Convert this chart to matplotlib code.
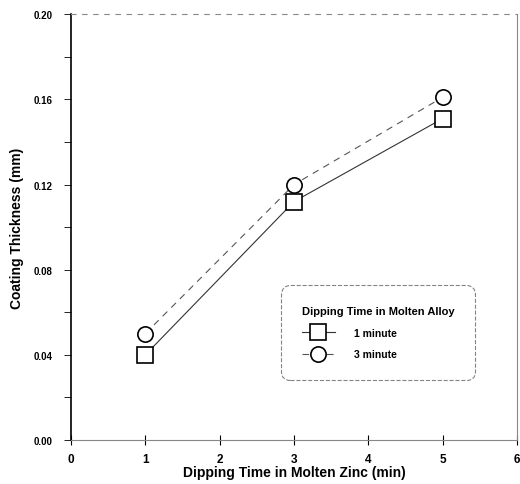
import numpy as np
import matplotlib
matplotlib.use('Agg')
from matplotlib import pyplot as plt
from matplotlib.ticker import MultipleLocator

plt.rcParams['font.family'] = ['Liberation Sans', 'DejaVu Sans']

# data
times = [1, 3, 5]
one_min = [0.040, 0.112, 0.151]
three_min = [0.050, 0.120, 0.161]

fig = plt.figure(figsize=(5.2, 4.85), dpi=100)
ax = fig.add_axes([0.1365, 0.0907, 0.858, 0.878])

ax.plot(times, one_min, '-', color='#333333', lw=0.8, marker='s', ms=11,
        mfc='white', mec='black', mew=1.2, label='1 minute')
ax.plot(times, three_min, '--', color='#555555', lw=0.8, dashes=(6, 5), marker='o', ms=11,
        mfc='white', mec='black', mew=1.2, label='3 minute')

ax.set_xlim(0, 6)
ax.set_ylim(0, 0.2)
ax.xaxis.set_major_locator(MultipleLocator(1))
ax.yaxis.set_major_locator(MultipleLocator(0.04))
ax.yaxis.set_minor_locator(MultipleLocator(0.02))
ax.yaxis.set_major_formatter(plt.FormatStrFormatter('%.2f'))

ax.tick_params(axis='x', direction='inout', length=7, width=0.8, labelsize=8.5, pad=6)
ax.tick_params(axis='y', which='both', direction='out', length=5, width=0.6, labelsize=7, pad=8)
for lab in ax.get_xticklabels() + ax.get_yticklabels():
    lab.set_fontweight('bold')

ax.spines['left'].set_linewidth(1.2)
for s in ['top', 'right', 'bottom']:
    ax.spines[s].set_color('#888888')
    ax.spines[s].set_linewidth(0.8)
ax.spines['top'].set_linestyle((0, (4, 6)))

ax.set_xlabel('Dipping Time in Molten Zinc (min)', fontsize=10, fontweight='bold', labelpad=0)
ax.set_ylabel('Coating Thickness (mm)', fontsize=10, fontweight='bold', labelpad=7)

leg = ax.legend(loc='center', bbox_to_anchor=(0.688, 0.252), title='Dipping Time in Molten Alloy',
                title_fontproperties={'weight': 'bold', 'size': 8},
                prop={'weight': 'bold', 'size': 7.5}, frameon=True, fancybox=True,
                borderpad=2.0, labelspacing=1.1, handlelength=3.2, handletextpad=1.8,
                markerscale=1.0)
frame = leg.get_frame()
frame.set_edgecolor('#666666')
frame.set_linestyle('--')
frame.set_linewidth(0.8)
frame.set_boxstyle('round', pad=0, rounding_size=0.9)
leg._legend_box.align = 'left'

fig.savefig('out.png', dpi=100)
